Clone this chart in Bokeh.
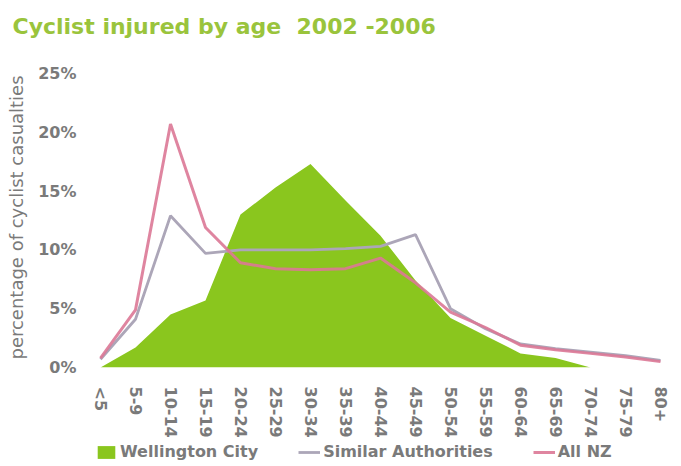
from bokeh.plotting import figure
from bokeh.layouts import column
from bokeh.models import Range1d, FixedTicker, Legend, LegendItem, Title
from bokeh.embed import file_html
from bokeh.resources import INLINE

ages = ["<5", "5-9", "10-14", "15-19", "20-24", "25-29", "30-34", "35-39", "40-44",
        "45-49", "50-54", "55-59", "60-64", "65-69", "70-74", "75-79", "80+"]
wellington = [0.0, 1.7, 4.5, 5.7, 13.0, 15.3, 17.3, 14.2, 11.2, 7.4, 4.2, 2.7, 1.2, 0.8, 0.0, 0.0, 0.0]
similar = [0.7, 4.1, 12.9, 9.7, 10.0, 10.0, 10.0, 10.1, 10.3, 11.3, 5.0, 3.3, 2.0, 1.6, 1.3, 1.0, 0.6]
allnz = [0.8, 4.9, 20.7, 11.9, 8.9, 8.4, 8.3, 8.4, 9.3, 7.2, 4.7, 3.4, 1.9, 1.5, 1.2, 0.9, 0.5]
y_ticks = [0, 5, 10, 15, 20, 25]
series_names = ["Wellington City", "Similar Authorities", "All NZ"]
title_text = "Cyclist injured by age \u00a02002 -2006"
GREEN, GRAY, PINK = "#8ac61e", "#aca6b8", "#dc7896"

x = list(range(len(ages)))

p = figure(width=673, height=440, output_backend="svg", toolbar_location=None,
           x_range=Range1d(-0.143, 16.314), y_range=Range1d(0, 25.5),
           min_border_left=95, min_border_right=2, min_border_top=66, min_border_bottom=72,
           title=None)
# spacer between title and plot area (closest to the frame)
p.add_layout(Title(text=" ", text_font_size="2px", standoff=14), "above")
p.add_layout(Title(text=title_text, text_font="DejaVu Sans", text_font_size="22px",
                   text_font_style="bold", text_color="#9ac43c",
                   offset=-83, standoff=22), "above")

p.outline_line_color = None
p.grid.visible = False
p.background_fill_color = "white"

p.varea(x=x, y1=[0] * len(x), y2=wellington, fill_color=GREEN)
p.line(x=x, y=similar, line_color=GRAY, line_width=2.8)
p.line(x=x, y=allnz, line_color=PINK, line_width=3, line_alpha=0.9)

xa = p.xaxis[0]
xa.ticker = FixedTicker(ticks=x)
xa.major_label_overrides = {i: lab for i, lab in enumerate(ages)}
xa.major_label_orientation = "vertical"
xa.axis_line_color = None
xa.major_tick_line_color = None
xa.minor_tick_line_color = None
xa.major_label_standoff = 13
xa.major_label_text_font = "DejaVu Sans"
xa.major_label_text_font_style = "bold"
xa.major_label_text_font_size = "16px"
xa.major_label_text_color = "#7a7a7a"

ya = p.yaxis[0]
ya.ticker = FixedTicker(ticks=y_ticks)
ya.major_label_overrides = {t: f"{t}%" for t in y_ticks}
ya.axis_line_color = None
ya.major_tick_line_color = None
ya.minor_tick_line_color = None
ya.major_label_standoff = 13
ya.major_label_text_font = "DejaVu Sans"
ya.major_label_text_font_style = "bold"
ya.major_label_text_font_size = "16px"
ya.major_label_text_color = "#7a7a7a"
ya.axis_label = "percentage of cyclist casualties"
ya.axis_label_text_font = "DejaVu Sans"
ya.axis_label_text_font_style = "normal"
ya.axis_label_text_font_size = "18px"
ya.axis_label_text_color = "#7a7a7a"
ya.axis_label_standoff = 8

# legend strip (series drawn out of view so only the legend keys show)
lg = figure(width=673, height=22, output_backend="svg", toolbar_location=None,
            x_range=Range1d(0, 1), y_range=Range1d(-2, -1),
            x_axis_type=None, y_axis_type=None,
            min_border_left=0, min_border_right=0, min_border_top=0, min_border_bottom=0)
lg.outline_line_color = None
lg.grid.visible = False
r1 = lg.varea(x=x, y1=[0] * len(x), y2=wellington, fill_color=GREEN)
r2 = lg.line(x=x, y=similar, line_color=GRAY, line_width=2.8)
r3 = lg.line(x=x, y=allnz, line_color=PINK, line_width=3, line_alpha=0.9)

legend = Legend(items=[LegendItem(label=series_names[0], renderers=[r1]),
                       LegendItem(label=series_names[1], renderers=[r2]),
                       LegendItem(label=series_names[2], renderers=[r3])],
                orientation="horizontal", location=(0, 1),
                spacing=40, padding=0, margin=0, label_standoff=3,
                glyph_width=22, glyph_height=16,
                label_text_font="DejaVu Sans", label_text_font_style="bold",
                label_text_font_size="16px", label_text_color="#7a7a7a",
                background_fill_alpha=0, border_line_color=None)
lg.add_layout(legend, "center")

layout = column(p, lg, spacing=0)
open("out.html", "w").write(file_html(layout, INLINE))
